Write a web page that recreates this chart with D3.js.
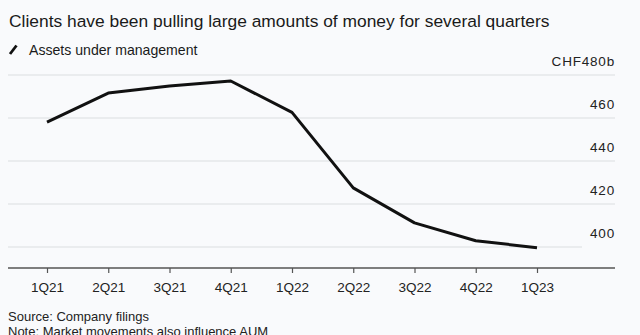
<!DOCTYPE html>
<html>
<head>
<meta charset="utf-8">
<script src="https://cdn.jsdelivr.net/npm/d3@7"></script>
<style>
  html, body { margin: 0; padding: 0; background: #f9fafc; }
  svg { display: block; font-family: "Liberation Sans", Arial, Helvetica, sans-serif; }
</style>
</head>
<body>
<svg id="chart" width="640" height="335"></svg>
<script>
const quarters = ["1Q21","2Q21","3Q21","4Q21","1Q22","2Q22","3Q22","4Q22","1Q23"];
const aum = [458.1, 471.6, 474.9, 477.2, 462.6, 427.5, 411.2, 402.9, 399.7];
const yTicks = [400, 420, 440, 460, 480];
const yTickLabels = ["400", "420", "440", "460", "CHF480b"];

const svg = d3.select("#chart");
svg.append("rect").attr("width", 640).attr("height", 335).attr("fill", "#f9fafc");

const x = d3.scalePoint().domain(quarters).range([47, 537]);
const y = d3.scaleLinear().domain([400, 480]).range([247, 75]);

// Title
svg.append("text").attr("x", 9).attr("y", 27)
  .attr("font-size", 17.4).attr("fill", "#1a1a1a")
  .text("Clients have been pulling large amounts of money for several quarters");

// Legend
svg.append("line").attr("x1", 10).attr("y1", 54).attr("x2", 16.5).attr("y2", 45.5)
  .attr("stroke", "#111").attr("stroke-width", 2.8);
svg.append("text").attr("x", 29).attr("y", 55)
  .attr("font-size", 14.1).attr("fill", "#1a1a1a")
  .text("Assets under management");

// Gridlines
const grid = svg.append("g");
yTicks.forEach(v => {
  grid.append("line")
    .attr("x1", 8).attr("x2", v === 400 ? 582 : 615)
    .attr("y1", y(v)).attr("y2", y(v))
    .attr("stroke", "#dcdde0").attr("stroke-width", 1.2);
});

// Y labels (right aligned, above gridlines)
yTicks.forEach((v, i) => {
  svg.append("text").attr("x", 615).attr("y", y(v) - 9)
    .attr("text-anchor", "end").attr("font-size", 13.5).attr("fill", "#222")
    .attr("letter-spacing", 0.8)
    .text(yTickLabels[i]);
});

// X axis
const xAxis = d3.axisBottom(x).tickSize(5).tickPadding(9).tickSizeOuter(0);
const gx = svg.append("g").attr("transform", "translate(0,268)").call(xAxis);
gx.select(".domain").remove();
gx.append("line").attr("x1", 8).attr("x2", 615).attr("y1", 0).attr("y2", 0)
  .attr("stroke", "#555").attr("stroke-width", 1.3);
gx.selectAll(".tick line").attr("stroke", "#555").attr("stroke-width", 1.2);
gx.selectAll(".tick text").attr("font-size", 13.5).attr("fill", "#222")
  .attr("font-family", "Liberation Sans, Arial, sans-serif");

// Line
const line = d3.line().x((d, i) => x(quarters[i])).y(d => y(d));
svg.append("path").datum(aum)
  .attr("d", line).attr("fill", "none")
  .attr("stroke", "#111").attr("stroke-width", 3)
  .attr("stroke-linejoin", "round");

// Footer
svg.append("text").attr("x", 8).attr("y", 321)
  .attr("font-size", 13).attr("fill", "#222").text("Source: Company filings");
svg.append("text").attr("x", 8).attr("y", 335.5)
  .attr("font-size", 13).attr("fill", "#222").text("Note: Market movements also influence AUM");
</script>
</body>
</html>
